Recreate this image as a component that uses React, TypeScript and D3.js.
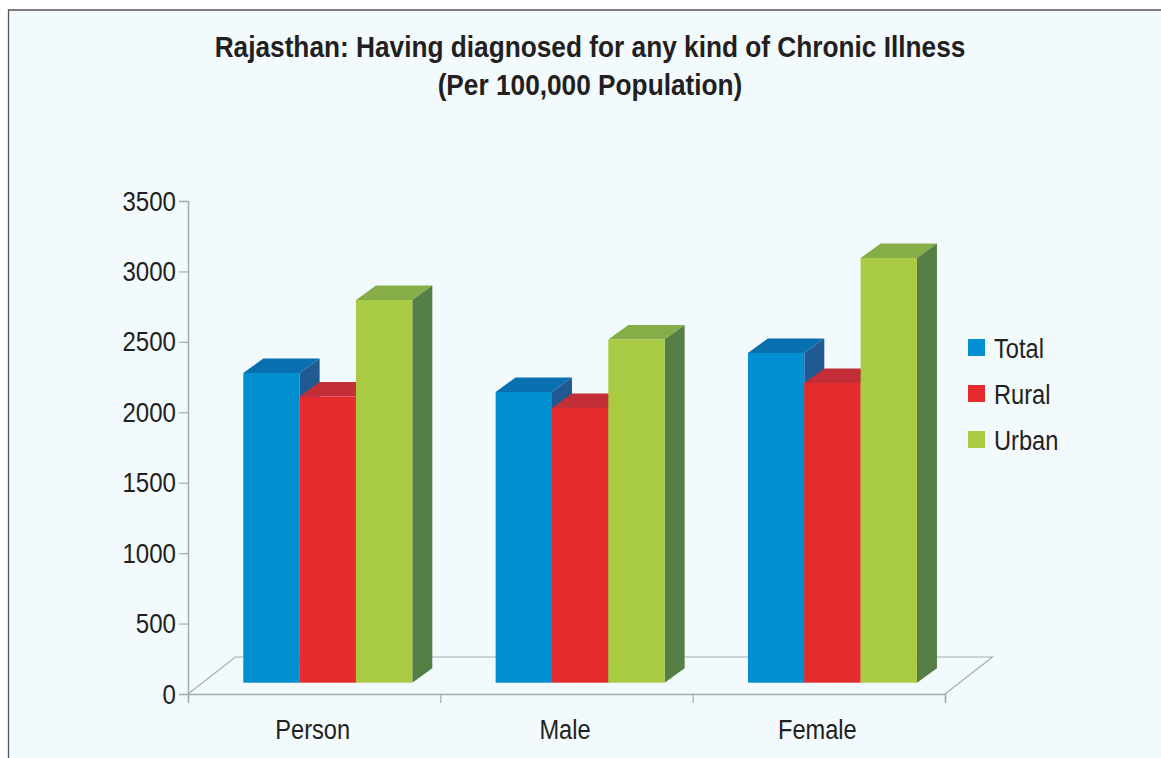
import { useRef, useEffect } from 'react';
import * as d3 from 'd3';

const WIDTH = 1161;
const HEIGHT = 758;

const titleLines = [
  'Rajasthan: Having diagnosed for any kind of Chronic Illness',
  '(Per 100,000 Population)',
];
const categories = ['Person', 'Male', 'Female'];
const seriesNames = ['Total', 'Rural', 'Urban'];
const totalValues = [2199, 2064, 2341];
const ruralValues = [2032, 1950, 2128];
const urbanValues = [2717, 2437, 3015];
const yTicks = [0, 500, 1000, 1500, 2000, 2500, 3000, 3500];

const seriesValues = [totalValues, ruralValues, urbanValues];
const FRONT = ['#008fd0', '#e52b2e', '#a9cb43'];
const TOP = ['#0a6fae', '#c22f36', '#86ad47'];
const SIDE = ['#1f5a92', '#a32a30', '#567f45'];

const TEXT = '#231f20';
const AXIS = '#a4acaf';
const BG = '#f2fafe';

// plot box, in page px
const LEFT = 188;
const RIGHT = 945;
const BASE = 694;
const TOP_Y = 201;
const FLOOR_DX = 47.5;
const FLOOR_DY = -37;
const BAR_DX = 20;
const BAR_DY = -14.5;
const BAR_LIFT = 11.3; // front of the bars stands a bit behind the axis line
const GROUP_OFFSET = 55.3;
const GROUP_W = 169;
const SQUEEZE = 0.86; // the original type is a narrow face

export default function App() {
  const svgRef = useRef<SVGSVGElement>(null);

  useEffect(() => {
    if (!svgRef.current) return;
    const svg = d3.select(svgRef.current);
    svg.selectAll('*').remove();

    const font = '"Liberation Sans", Arial, sans-serif';
    const x0 = d3.scaleBand<string>().domain(categories).range([LEFT, RIGHT]);
    const x1 = d3.scaleBand<string>().domain(seriesNames).range([0, GROUP_W]);
    const y = d3.scaleLinear().domain([0, 3500]).range([BASE, TOP_Y]);

    // Frame
    svg.append('rect').attr('width', WIDTH).attr('height', HEIGHT).attr('fill', '#fff');
    svg.append('rect').attr('x', 8).attr('y', 10).attr('width', WIDTH - 8).attr('height', HEIGHT - 10).attr('fill', BG);
    svg.append('path')
      .attr('d', `M8.5,${HEIGHT}V10H${WIDTH}`)
      .attr('fill', 'none')
      .attr('stroke', '#555')
      .attr('stroke-width', 1.3);

    // Squeezed text helper
    const label = (x: number, yy: number, str: string, size: number, anchor: string, weight = 'normal', squeeze = SQUEEZE) =>
      svg.append('text')
        .attr('transform', `translate(${x},${yy}) scale(${squeeze},1)`)
        .attr('text-anchor', anchor)
        .attr('font-family', font)
        .attr('font-size', size)
        .attr('font-weight', weight)
        .attr('fill', TEXT)
        .text(str);

    // Title
    titleLines.forEach((line, i) => label(590, 57 + i * 37.5, line, 30, 'middle', 'bold', 0.875));

    // Floor
    svg.append('path')
      .attr('d', `M${LEFT},${BASE}L${LEFT + FLOOR_DX},${BASE + FLOOR_DY}H${RIGHT + FLOOR_DX}L${RIGHT},${BASE}`)
      .attr('fill', 'none')
      .attr('stroke', AXIS)
      .attr('stroke-width', 1.1);

    // Axes
    const styleAxis = (a: d3.Selection<SVGGElement, unknown, null, undefined>) => {
      a.select('.domain').attr('stroke', AXIS).attr('stroke-width', 1.5);
      a.selectAll('line').attr('stroke', AXIS).attr('stroke-width', 1.2);
      a.selectAll('text').remove();
    };
    svg.append('g')
      .attr('transform', `translate(${LEFT},0)`)
      .call(d3.axisLeft(y).tickValues(yTicks).tickSize(9).tickSizeOuter(9))
      .call(styleAxis);
    svg.append('g')
      .attr('transform', `translate(0,${BASE})`)
      .call(d3.axisBottom(d3.scaleLinear().domain([0, 3]).range([LEFT, RIGHT])).ticks(3).tickSize(9).tickSizeOuter(9))
      .call(styleAxis);

    yTicks.forEach((t) => label(LEFT - 12, y(t) + 9.5, String(t), 28, 'end'));
    categories.forEach((c) => label(x0(c)! + x0.bandwidth() / 2 - 1.5, 739, c, 27.5, 'middle'));

    // Bars, painted left to right so each one covers the side of the last
    categories.forEach((c, ci) => {
      seriesNames.forEach((s, si) => {
        const xa = x0(c)! + GROUP_OFFSET + x1(s)!;
        const xb = xa + x1.bandwidth();
        const yTop = y(seriesValues[si][ci]) - BAR_LIFT;
        const yBase = BASE - BAR_LIFT;

        svg.append('path')
          .attr('d', `M${xa},${yTop}l${BAR_DX},${BAR_DY}H${xb + BAR_DX}L${xb},${yTop}Z`)
          .attr('fill', TOP[si]);
        svg.append('path')
          .attr('d', `M${xb},${yTop}l${BAR_DX},${BAR_DY}V${yBase + BAR_DY}L${xb},${yBase}Z`)
          .attr('fill', SIDE[si]);
        svg.append('rect')
          .attr('x', xa)
          .attr('y', yTop)
          .attr('width', xb - xa)
          .attr('height', yBase - yTop)
          .attr('fill', FRONT[si]);
      });
    });

    // Legend
    seriesNames.forEach((s, i) => {
      const ly = 339 + i * 46;
      svg.append('rect').attr('x', 968).attr('y', ly).attr('width', 17).attr('height', 17).attr('fill', FRONT[i]);
      label(994, ly + 19, s, 27.5, 'start');
    });
  }, []);

  return (
    <svg
      ref={svgRef}
      width={WIDTH}
      height={HEIGHT}
      style={{ position: 'absolute', top: 0, left: 0, display: 'block' }}
    />
  );
}
